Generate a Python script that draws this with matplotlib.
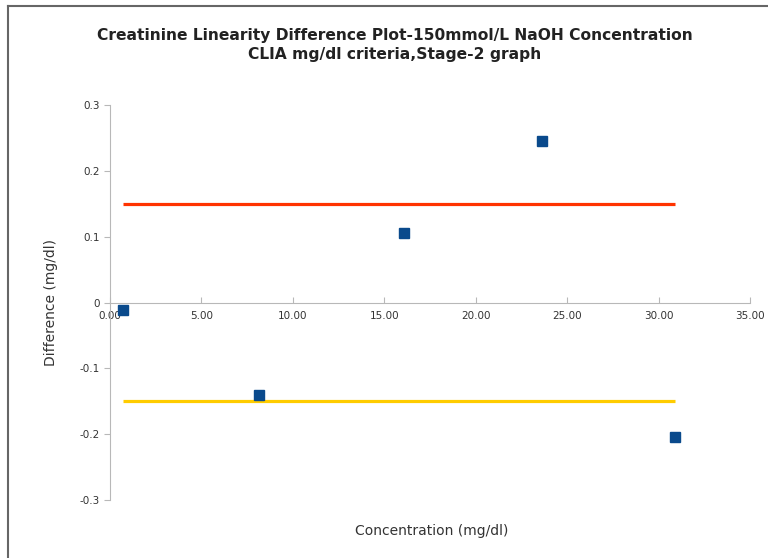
import numpy as np
import matplotlib
matplotlib.use("Agg")
import matplotlib.pyplot as plt
from matplotlib.lines import Line2D

# data
conc = [0.71, 8.15, 16.07, 23.62, 30.89]
diff = [-0.012, -0.140, 0.106, 0.246, -0.205]
upper_limit = 0.15
lower_limit = -0.15
xticks = [0, 5, 10, 15, 20, 25, 30, 35]
yticks = [-0.3, -0.2, -0.1, 0, 0.1, 0.2, 0.3]

fig = plt.figure(figsize=(7.68, 5.58), dpi=100)
ax = fig.add_axes([0.1432, 0.1039, 0.8333, 0.7079])

# limit lines span the measured range
xr = [min(conc), max(conc)]
ax.plot(xr, [upper_limit, upper_limit], color="#ff3300", lw=2.3, solid_capstyle="butt")
ax.plot(xr, [lower_limit, lower_limit], color="#ffcc00", lw=2.3, solid_capstyle="butt")
ax.plot(conc, diff, "s", color="#0a4a8c", markersize=7, zorder=3)

ax.set_xlim(0, 35)
ax.set_ylim(-0.3, 0.3)
ax.set_xticks(xticks)
ax.set_xticklabels(["%.2f" % v for v in xticks])
ax.set_yticks(yticks)
ax.set_yticklabels(["0" if v == 0 else "%g" % v for v in yticks])

for s in ["top", "right"]:
    ax.spines[s].set_visible(False)
ax.spines["bottom"].set_position(("data", 0))
ax.spines["bottom"].set_color("#b8b8b8")
ax.spines["left"].set_color("#b8b8b8")
ax.tick_params(axis="x", direction="in", length=4, color="#b8b8b8",
               labelsize=7.5, labelcolor="#333333", pad=6)
ax.tick_params(axis="y", direction="out", length=4, color="#b8b8b8",
               labelsize=7.5, labelcolor="#333333")

fig.text(0.514, 0.937, "Creatinine Linearity Difference Plot-150mmol/L NaOH Concentration",
         ha="center", va="center", fontsize=11.2, fontweight="bold", color="#222222")
fig.text(0.514, 0.903, "CLIA mg/dl criteria,Stage-2 graph",
         ha="center", va="center", fontsize=11.2, fontweight="bold", color="#222222")
fig.text(0.066, 0.457, "Difference (mg/dl)", rotation=90, ha="center", va="center",
         fontsize=10, color="#333333")
fig.text(0.5625, 0.048, "Concentration (mg/dl)", ha="center", va="center",
         fontsize=10, color="#333333")

# frame edges of the original screenshot
fig.add_artist(Line2D([8 / 768, 8 / 768], [0, 1 - 6 / 558], transform=fig.transFigure,
                      color="#666666", lw=1.5))
fig.add_artist(Line2D([8 / 768, 1], [1 - 6 / 558, 1 - 6 / 558], transform=fig.transFigure,
                      color="#666666", lw=1.5))

fig.savefig("out.png", dpi=100)
